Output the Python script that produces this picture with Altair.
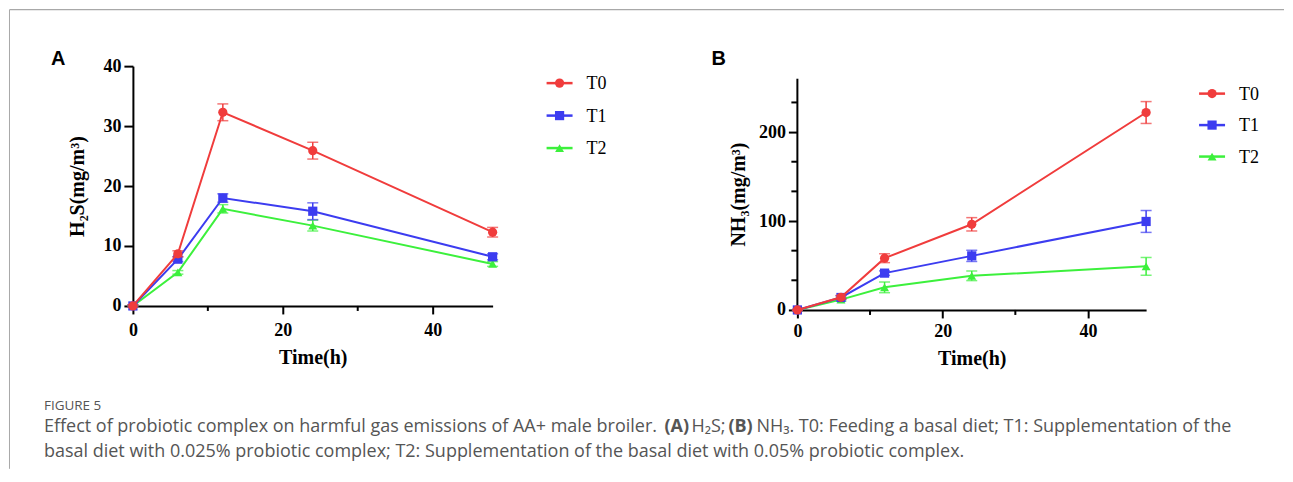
import altair as alt
import pandas as pd

# ---------------- data ----------------
time_h = [0, 6, 12, 24, 48]
series = ["T0", "T1", "T2"]

h2s_t0 = [0, 8.7, 32.3, 25.9, 12.3]
h2s_t1 = [0, 7.8, 18.0, 15.8, 8.2]
h2s_t2 = [0, 5.6, 16.2, 13.4, 7.0]
h2s_err_t0 = [0.2, 0.5, 1.4, 1.4, 0.8]
h2s_err_t1 = [0.2, 0.4, 0.7, 1.4, 0.5]
h2s_err_t2 = [0.1, 0.3, 0.7, 0.9, 0.4]

nh3_t0 = [0, 14.2, 58.2, 96.3, 222.0]
nh3_t1 = [0, 14.0, 41.4, 60.8, 99.5]
nh3_t2 = [0, 11.6, 25.4, 38.4, 49.0]
nh3_err_t0 = [0.5, 2.0, 5.0, 7.5, 12.3]
nh3_err_t1 = [0.5, 2.0, 2.5, 6.3, 12.3]
nh3_err_t2 = [0.5, 1.5, 6.0, 5.4, 10.0]

x_major = [0, 20, 40]
x_minor = [10, 30]
h2s_major = [0, 10, 20, 30, 40]
nh3_major = [0, 100, 200]
nh3_minor = [33.33, 66.67, 133.33, 166.67, 233.33]

colors = {"T0": "#f03c3c", "T1": "#3c3cf0", "T2": "#3cf03c"}
shapes = {"T0": "circle", "T1": "square", "T2": "triangle-up"}
sizes = {"T0": 85, "T1": 85, "T2": 80}

caption_head = "FIGURE 5"
caption_l1a = "Effect of probiotic complex on harmful gas emissions of AA+ male broiler."
caption_l1b = "(A)"
caption_l1c = "H\u2082S;"
caption_l1d = "(B)"
caption_l1e = "NH\u2083. T0: Feeding a basal diet; T1: Supplementation of the"
caption_l2 = ("basal diet with 0.025% probiotic complex; T2: Supplementation of the "
              "basal diet with 0.05% probiotic complex.")


def long_df(vals, errs):
    rows = []
    for s, v_list, e_list in zip(series, vals, errs):
        for t, v, e in zip(time_h, v_list, e_list):
            rows.append(dict(series=s, time=t, value=v, lo=v - e, hi=v + e))
    return pd.DataFrame(rows)


df_h2s = long_df([h2s_t0, h2s_t1, h2s_t2], [h2s_err_t0, h2s_err_t1, h2s_err_t2])
df_nh3 = long_df([nh3_t0, nh3_t1, nh3_t2], [nh3_err_t0, nh3_err_t1, nh3_err_t2])

SERIF = "Liberation Serif"


def one(txt):
    return pd.DataFrame({"t": [txt]})


def text_layer(txt, x, y, font, size, weight="normal", color="black", align="left",
               baseline="alphabetic"):
    return alt.Chart(one(txt)).mark_text(
        align=align, baseline=baseline, font=font, fontSize=size,
        fontWeight=weight, color=color
    ).encode(x=alt.value(x), y=alt.value(y), text="t:N")


def panel(df, width, height, ydomain, ymajor, yminor, ytitle, ytitle_y, ytitle_pad,
          y_line_top, x_label_pad, x_title_pad, legend_x, legend_y0, legend_dy, extra):
    xaxis = alt.Axis(values=x_major, tickSize=8, tickWidth=2, tickColor="black",
                     domainWidth=2, domainColor="black", grid=False,
                     labelFont=SERIF, labelFontWeight="bold", labelFontSize=18,
                     labelColor="black", labelPadding=x_label_pad, labelFlush=False,
                     labelOverlap=False, titleFont=SERIF, titleFontWeight="bold",
                     titleFontSize=20, titleColor="black", titlePadding=x_title_pad)
    yaxis_kw = dict(values=ymajor, tickSize=9, tickWidth=2, tickColor="black",
                    domainWidth=2, domainColor="black", grid=False,
                    labelFont=SERIF, labelFontWeight="bold", labelFontSize=18,
                    labelColor="black", labelPadding=3, labelFlush=False,
                    labelOverlap=False, titleFont=SERIF, titleFontWeight="bold",
                    titleFontSize=20, titleColor="black", titlePadding=ytitle_pad)
    if y_line_top is not None:
        yaxis_kw["domain"] = False
    if ytitle_y is not None:
        yaxis_kw["titleY"] = ytitle_y
    yaxis = alt.Axis(**yaxis_kw)
    xscale = alt.Scale(domain=[0, 48], nice=False, zero=False)
    yscale = alt.Scale(domain=ydomain, nice=False, zero=False)

    def X(field):
        return alt.X(field, scale=xscale, axis=xaxis, title="Time(h)")

    def Y(field):
        return alt.Y(field, scale=yscale, axis=yaxis, title=ytitle)

    layers = []
    # minor ticks
    layers.append(alt.Chart(pd.DataFrame({"tx": x_minor})).mark_rule(
        color="black", strokeWidth=2).encode(
        x=X("tx:Q"), y=alt.value(height), y2=alt.value(height + 5)))
    if yminor:
        layers.append(alt.Chart(pd.DataFrame({"ty": yminor})).mark_rule(
            color="black", strokeWidth=2).encode(
            y=Y("ty:Q"), x=alt.value(0), x2=alt.value(-6)))
    if y_line_top is not None:
        layers.append(alt.Chart(pd.DataFrame({"a": [0], "b": [y_line_top]})).mark_rule(
            color="black", strokeWidth=2).encode(
            y=Y("a:Q"), y2="b:Q", x=alt.value(0)))

    for s in ["T2", "T1", "T0"]:
        c = colors[s]
        base = alt.Chart(df).transform_filter(alt.datum.series == s)
        layers.append(base.mark_rule(color=c, strokeWidth=1.5).encode(
            x=X("time:Q"), y=Y("lo:Q"), y2="hi:Q"))
        layers.append(base.mark_tick(color=c, thickness=1.5, size=11,
                                     orient="horizontal").encode(x=X("time:Q"), y=Y("lo:Q")))
        layers.append(base.mark_tick(color=c, thickness=1.5, size=11,
                                     orient="horizontal").encode(x=X("time:Q"), y=Y("hi:Q")))
        layers.append(base.mark_line(color=c, strokeWidth=2).encode(
            x=X("time:Q"), y=Y("value:Q")))
        layers.append(base.mark_point(color=c, filled=True, opacity=1, shape=shapes[s],
                                      size=sizes[s]).encode(x=X("time:Q"), y=Y("value:Q")))

    # legend
    for i, s in enumerate(series):
        c = colors[s]
        yy = legend_y0 + i * legend_dy
        d = one(s)
        layers.append(alt.Chart(d).mark_rule(color=c, strokeWidth=2.5).encode(
            x=alt.value(legend_x), x2=alt.value(legend_x + 26), y=alt.value(yy)))
        layers.append(alt.Chart(d).mark_point(color=c, filled=True, opacity=1,
                                              shape=shapes[s], size=sizes[s]).encode(
            x=alt.value(legend_x + 13), y=alt.value(yy)))
        layers.append(text_layer(s, legend_x + 40, yy + 1, SERIF, 18, baseline="middle"))

    layers.extend(extra)
    return alt.layer(*layers).properties(width=width, height=height)


# panel A extras: panel letter, frame, caption (pixel positions relative to plot A)
cap_font = "Open Sans"
cap_size = 18
cap_col = "#555555"
extra_a = [
    text_layer("A", -82, -1, "Liberation Sans", 20, weight="bold"),
    alt.Chart(one("f")).mark_rule(color="#a8a8a8", strokeWidth=1).encode(
        x=alt.value(-123.5), y=alt.value(-56.5), y2=alt.value(403)),
    alt.Chart(one("f")).mark_rule(color="#a8a8a8", strokeWidth=1.2).encode(
        x=alt.value(-123.5), x2=alt.value(1152), y=alt.value(-56.5)),
    text_layer(caption_head, -89, 344, cap_font, 13.5, weight="normal", color=cap_col),
    text_layer(caption_l1a, -89, 366, cap_font, cap_size, color=cap_col),
    text_layer(caption_l1b, 532, 366, cap_font, cap_size, weight="bold", color=cap_col),
    text_layer(caption_l1c, 559, 366, cap_font, cap_size, color=cap_col),
    text_layer(caption_l1d, 596, 366, cap_font, cap_size, weight="bold", color=cap_col),
    text_layer(caption_l1e, 624, 366, cap_font, cap_size, color=cap_col),
    text_layer(caption_l2, -89, 391, cap_font, cap_size, color=cap_col),
]

extra_b = [
    text_layer("B", -86, -1, "Liberation Sans", 20, weight="bold"),
]

chart_a = panel(df_h2s, 360, 240, [0, 40], h2s_major, [], "H\u2082S(mg/m\u00b3)", None, 15,
                None, 8, 8, 414, 17, 32.5, extra_a)
chart_b = panel(df_nh3, 349, 244, [0, 244 / 0.89], nh3_major, nh3_minor,
                "NH\u2083(mg/m\u00b3)", 128, 10, 260, 5, 8, 402, 27.5, 31.5, extra_b)

chart = alt.hconcat(chart_a, chart_b, spacing=305, bounds="flush").properties(
    padding=0, background="white"
).configure_view(stroke=None)

chart.save("out.html", embed_options={"renderer": "svg", "actions": False})
